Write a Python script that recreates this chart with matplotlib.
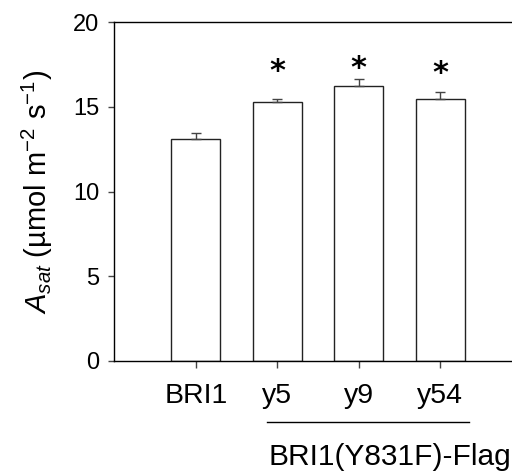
import matplotlib
matplotlib.use('Agg')
import matplotlib.pyplot as plt

plt.rcParams['font.family'] = ['Liberation Sans', 'DejaVu Sans']
plt.rcParams['mathtext.fontset'] = 'custom'
plt.rcParams['mathtext.rm'] = 'Liberation Sans'
plt.rcParams['mathtext.it'] = 'Liberation Sans:italic'

labels = ['BRI1', 'y5', 'y9', 'y54']
values = [13.08, 15.27, 16.24, 15.45]
errors = [0.36, 0.21, 0.40, 0.41]
signif = ['', '*', '*', '*']
star_y = [0, 17.1, 17.25, 17.0]
group_label = 'BRI1(Y831F)-Flag'

fig = plt.figure(figsize=(5.12, 4.73), dpi=100)
ax = fig.add_axes([0.2232, 0.2368, 0.796, 0.7161])

x = list(range(len(labels)))
ax.bar(x, values, width=0.6, color='white', edgecolor='#222222', linewidth=1.0)
ax.errorbar(x, values, yerr=[[0] * len(errors), errors], fmt='none',
            ecolor='#444444', elinewidth=1.0, capsize=3.6, capthick=1.0)
for xi, s, sy in zip(x, signif, star_y):
    if s:
        ax.text(xi, sy, s, ha='center', va='center', fontsize=22,
                fontweight='bold', color='black', family='DejaVu Sans')

ax.set_xlim(-1.0, 4.0)
ax.set_ylim(0, 20)
ax.set_yticks([0, 5, 10, 15, 20])
ax.set_xticks(x)
ax.set_xticklabels(labels, fontsize=20.5)
ax.tick_params(axis='y', labelsize=17, direction='out', length=4, width=1, color='#444444', pad=7)
ax.tick_params(axis='x', direction='out', length=5, width=1, color='#444444', pad=11)
for sp in ax.spines.values():
    sp.set_linewidth(1.0)
    sp.set_color('black')

ax.set_ylabel(r'$\mathit{A}_{\mathit{sat}}$ (µmol m$^{-2}$ s$^{-1}$)', fontsize=21, labelpad=13)

# group line + label under the transgenic lines
fig.add_artist(plt.Line2D([0.521, 0.916], [0.1075, 0.1075], color='black', lw=1.0))
fig.text(0.762, 0.0345, group_label, ha='center', va='center', fontsize=21.5)

fig.savefig('out.png', dpi=100)
